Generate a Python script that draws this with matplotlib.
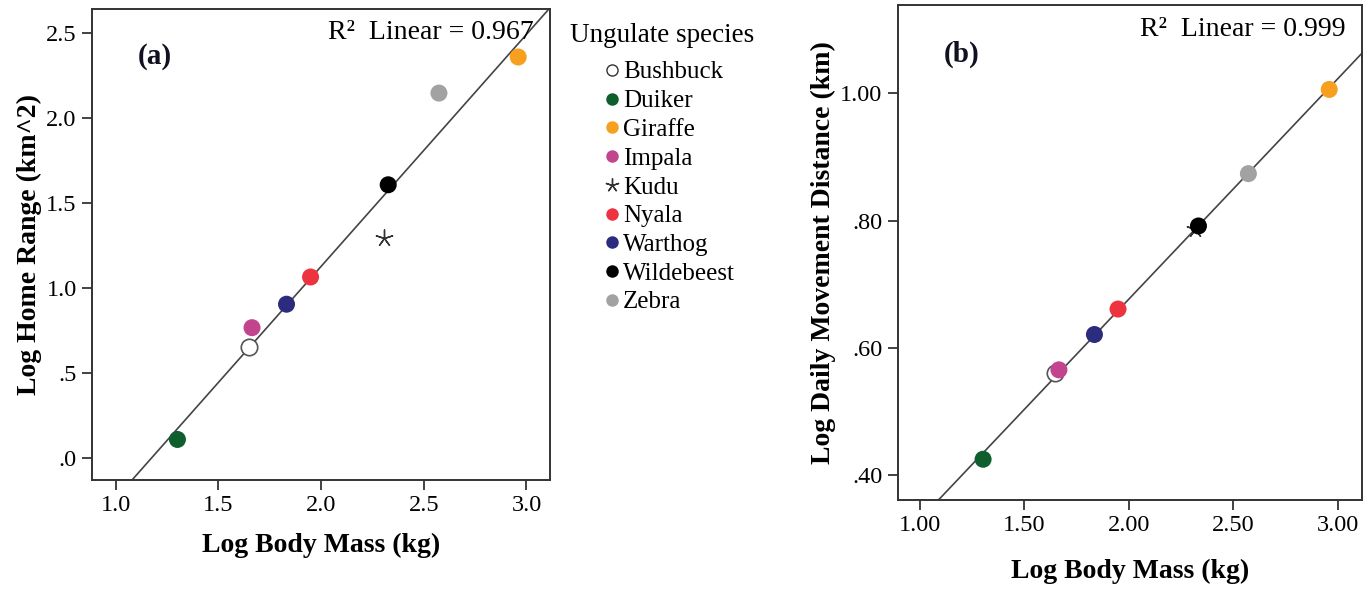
import matplotlib
matplotlib.use("Agg")
import matplotlib.pyplot as plt
import numpy as np
from matplotlib.lines import Line2D

plt.rcParams["font.family"] = ["Liberation Serif", "DejaVu Serif"]

species = ["Bushbuck", "Duiker", "Giraffe", "Impala", "Kudu",
           "Nyala", "Warthog", "Wildebeest", "Zebra"]
colors = ["white", "#0f5e2e", "#f7a020", "#c2448f", "#333333",
          "#ee3340", "#2b2c7e", "#000000", "#a2a2a2"]
markers = ["o", "o", "o", "o", (5, 2, 0), "o", "o", "o", "o"]

# panel (a): log body mass vs log home range
mass_a = [1.648, 1.301, 2.960, 1.664, 2.308, 1.949, 1.832, 2.327, 2.574]
home_range = [0.655, 0.109, 2.357, 0.766, 1.294, 1.064, 0.904, 1.606, 2.145]

# panel (b): log body mass vs log daily movement distance
mass_b = [1.648, 1.302, 2.959, 1.665, 2.318, 1.948, 1.835, 2.333, 2.572]
daily_dist = [0.560, 0.425, 1.006, 0.5655, 0.787, 0.661, 0.621, 0.7915, 0.8737]

xticks_a = [1.0, 1.5, 2.0, 2.5, 3.0]
xticklabels_a = ["1.0", "1.5", "2.0", "2.5", "3.0"]
yticks_a = [0.0, 0.5, 1.0, 1.5, 2.0, 2.5]
yticklabels_a = [".0", ".5", "1.0", "1.5", "2.0", "2.5"]
xticks_b = [1.0, 1.5, 2.0, 2.5, 3.0]
xticklabels_b = ["1.00", "1.50", "2.00", "2.50", "3.00"]
yticks_b = [0.4, 0.6, 0.8, 1.0]
yticklabels_b = [".40", ".60", ".80", "1.00"]

fig = plt.figure(figsize=(13.69, 5.92), dpi=100)
ax_a = fig.add_axes([0.0672, 0.189, 0.3346, 0.796])
ax_b = fig.add_axes([0.6557, 0.1554, 0.3389, 0.836])


def draw_panel(ax, xs, ys, xlim, ylim, r2_text, tag, ylabel,
               xticks, xtl, yticks, ytl, xpad):
    ax.set_xlim(*xlim)
    ax.set_ylim(*ylim)
    slope, icpt = np.polyfit(xs, ys, 1)
    gx = np.array(xlim)
    ax.plot(gx, icpt + slope * gx, color="#444444", lw=1.2, zorder=1)
    for x, y, c, m in zip(xs, ys, colors, markers):
        if m == "o" and c == "white":
            ax.scatter(x, y, s=140, facecolor="white", edgecolor="#555555",
                       linewidth=1.2, zorder=3)
        elif m != "o":
            ax.scatter(x, y, s=150, marker=m, color=c, linewidth=1.0, zorder=3)
        else:
            ax.scatter(x, y, s=150, color=c, edgecolor="none", zorder=3)
    ax.set_xticks(xticks)
    ax.set_xticklabels(xtl)
    ax.set_yticks(yticks)
    ax.set_yticklabels(ytl)
    ax.tick_params(direction="out", length=7, width=1.2, labelsize=17.5,
                   color="#222222", pad=4)
    for sp in ax.spines.values():
        sp.set_linewidth(1.4)
        sp.set_color("#333333")
    ax.set_xlabel("Log Body Mass (kg)", fontsize=20, fontweight="bold", labelpad=xpad)
    ax.set_ylabel(ylabel, fontsize=20, fontweight="bold", labelpad=3)
    ax.text(0.965, 0.95, r2_text, transform=ax.transAxes, ha="right", va="center",
            fontsize=20)
    ax.text(0.1, 0.9, tag, transform=ax.transAxes, ha="left", va="center",
            fontsize=21, fontweight="bold", color="#111122")


draw_panel(ax_a, mass_a, home_range, (0.885, 3.115), (-0.13, 2.64),
           "R²  Linear = 0.967", "(a)", "Log Home Range (km^2)",
           xticks_a, xticklabels_a, yticks_a, yticklabels_a, 12)
draw_panel(ax_b, mass_b, daily_dist, (0.893, 3.114), (0.361, 1.1385),
           "R²  Linear = 0.999", "(b)", "Log Daily Movement Distance (km)",
           xticks_b, xticklabels_b, yticks_b, yticklabels_b, 16)

# legend
fig.text(570 / 1369, 1 - 36 / 592, "Ungulate species", fontsize=19.5,
         ha="left", va="center")
handles = []
for c, m in zip(colors, markers):
    if c == "white":
        handles.append(Line2D([], [], ls="none", marker="o", markersize=8,
                              markerfacecolor="white", markeredgecolor="#333333",
                              markeredgewidth=1.0))
    elif m != "o":
        handles.append(Line2D([], [], ls="none", marker=m, markersize=10,
                              color=c, markeredgewidth=1.0))
    else:
        handles.append(Line2D([], [], ls="none", marker="o", markersize=9,
                              markerfacecolor=c, markeredgecolor="none"))
fig.legend(handles, species, loc="upper left",
           bbox_to_anchor=(603 / 1369, 1 - 61 / 592), frameon=False,
           fontsize=18, handlelength=0.7, handletextpad=0.1,
           labelspacing=0.25, borderpad=0, borderaxespad=0)

fig.savefig("out.png", dpi=100)
